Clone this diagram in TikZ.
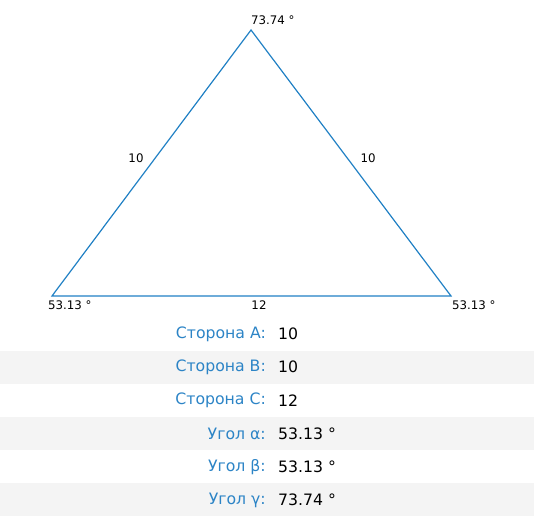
\documentclass[tikz,border=0pt]{standalone}
\usepackage{fontspec}
\setmainfont{DejaVu Sans}
\definecolor{triblue}{HTML}{2080C4}
\definecolor{lblblue}{HTML}{2C84C6}
\definecolor{rowgrey}{HTML}{F4F4F4}
\begin{document}
\begin{tikzpicture}[x=1pt,y=-1pt,
  vlabel/.style={font=\fontsize{11.8}{14}\selectfont, inner sep=0pt, text=black},
  rowlabel/.style={font=\fontsize{15.7}{19}\selectfont, text=lblblue, anchor=east, inner sep=0pt},
  rowvalue/.style={font=\fontsize{15.7}{19}\selectfont, text=black, anchor=west, inner sep=0pt},
  side/.style={draw=triblue, line width=1.2pt}]
\useasboundingbox (0,0) rectangle (534,516);
% row backgrounds
\fill[rowgrey] (0,350.6) rectangle (534,383.8);
\fill[rowgrey] (0,417) rectangle (534,450.2);
\fill[rowgrey] (0,483.4) rectangle (534,516);
% triangle
\coordinate (T) at (251,30);
\coordinate (L) at (52,296);
\coordinate (R) at (451,296);
\draw[side] (T) -- (L) -- (R) -- cycle;
\node[vlabel, anchor=west] (aT) at (251,20) {73.74 °};
\node[vlabel, anchor=west] (aL) at (48,305) {53.13 °};
\node[vlabel, anchor=west] (aR) at (452,305) {53.13 °};
\node[vlabel] (sL) at (136,158) {10};
\node[vlabel] (sR) at (368,158) {10};
\node[vlabel] (sB) at (259,305) {12};
% table
\node[rowlabel] (l1) at (266,334) {Сторона A:};
\node[rowvalue] (v1) at (278,334) {10};
\node[rowlabel] (l2) at (266,367.2) {Сторона B:};
\node[rowvalue] (v2) at (278,367.2) {10};
\node[rowlabel] (l3) at (266,400.4) {Сторона C:};
\node[rowvalue] (v3) at (278,400.4) {12};
\node[rowlabel] (l4) at (266,433.6) {Угол α:};
\node[rowvalue] (v4) at (278,433.6) {53.13 °};
\node[rowlabel] (l5) at (266,466.8) {Угол β:};
\node[rowvalue] (v5) at (278,466.8) {53.13 °};
\node[rowlabel] (l6) at (266,500) {Угол γ:};
\node[rowvalue] (v6) at (278,500) {73.74 °};
\end{tikzpicture}
\end{document}
